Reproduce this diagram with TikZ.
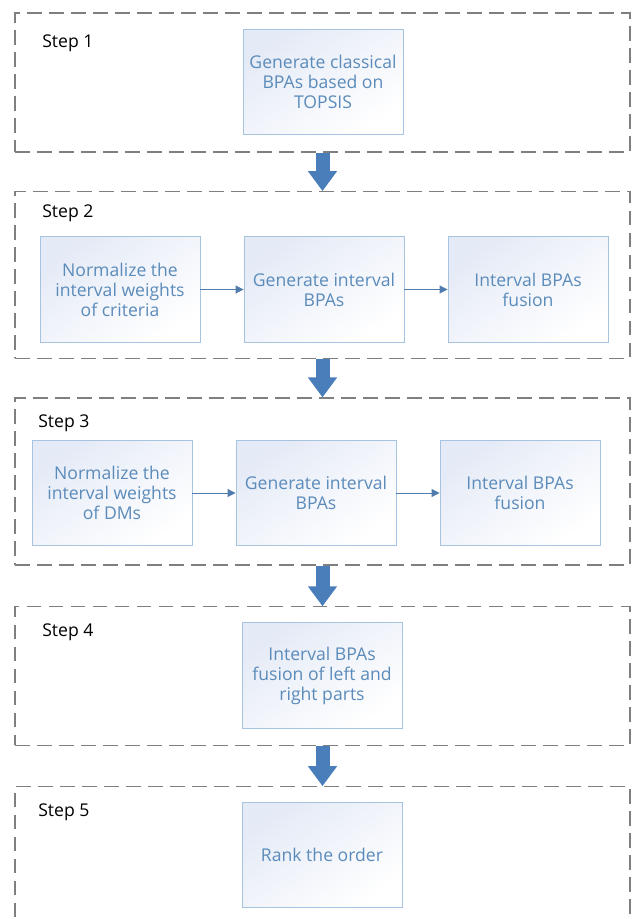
\documentclass[tikz,border=0pt]{standalone}
\usepackage{fontspec}
\setmainfont{Open Sans}
\usetikzlibrary{arrows.meta,positioning}
\definecolor{framegray}{HTML}{7F7F7F}
\definecolor{boxline}{HTML}{A6C3E0}
\definecolor{boxtint}{HTML}{E4EAF6}
\definecolor{boxtext}{HTML}{5B8BBA}
\definecolor{linkblue}{HTML}{4F7CAC}
\definecolor{flowblue}{HTML}{4A7EBB}
\begin{document}
\begin{tikzpicture}[x=0.75pt,y=-0.75pt,
 stepframe/.style={draw=framegray,line width=0.9pt,dash pattern=on 11pt off 5.5pt,minimum width=461.25pt},
 stage/.style={draw=boxline,line width=0.7pt,top color=boxtint,bottom color=white,shading angle=35,
   minimum width=120pt,minimum height=79pt,align=center,text=boxtext,font=\fontsize{13.2}{15}\selectfont},
 steplabel/.style={anchor=west,inner sep=0pt,font=\fontsize{13.2}{15}\selectfont},
 flow/.style={draw=flowblue,line width=10.5pt,-{Triangle[width=21pt,length=15pt]}},
 link/.style={draw=linkblue,line width=0.75pt,-{Triangle[width=6pt,length=6pt]}}]
\useasboundingbox (0,0) rectangle (631,919);
\foreach \n/\y/\h in {1/82.5/104.25pt,2/275/125pt,3/481.5/125.25pt,4/676/103.7pt,5/861.7/112.5pt}
 {\node[stepframe,minimum height=\h] (s\n) at (322.5,\y) {};}
\foreach \n/\x/\y in {1/42/43,2/42/213,3/38/423,4/42/632,5/38/812}
 {\node[steplabel] (l\n) at (\x,\y) {Step \n};}
\node[stage] (gen1) at (323,82) {Generate classical\\BPAs based on\\TOPSIS};
\foreach \n/\y/\dx/\who in {2/289.5/0/criteria,3/493/-8/DMs}
 {\node[stage] (a\n) at (120+\dx,\y) {Normalize the\\interval weights\\of \who};
  \node[stage] (b\n) at (324+\dx,\y) {Generate interval\\BPAs};
  \node[stage] (c\n) at (528+\dx,\y) {Interval BPAs\\fusion};
  \draw[link] (a\n) -- (b\n);
  \draw[link] (b\n) -- (c\n);}
\node[stage] (fus4) at (322,675.5) {Interval BPAs\\fusion of left and\\right parts};
\node[stage] (rank5) at (322,855) {Rank the order};
\foreach \i/\j in {s1/s2,s2/s3,s3/s4,s4/s5}
 {\draw[flow] (\i.south) -- (\j.north);}
\end{tikzpicture}
\end{document}
